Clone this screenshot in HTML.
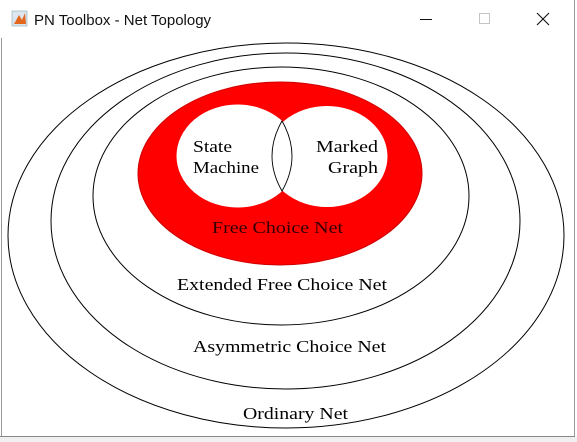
<!DOCTYPE html>
<html><head><meta charset="utf-8"><style>
html,body{margin:0;padding:0;background:#fff;width:577px;height:442px;overflow:hidden}
svg{display:block}
</style></head><body>
<svg width="577" height="442" viewBox="0 0 577 442" xmlns="http://www.w3.org/2000/svg">
<rect x="0" y="0" width="577" height="442" fill="#fff"/>
<g>
  <rect x="12" y="11" width="15" height="15" fill="#dde6f0" stroke="#8aa" stroke-width="0.6"/>
  <path d="M14 24 L19 15 L22 20 L25 13 L26 24 Z" fill="#e2661c"/>
  <text x="34" y="25" font-family="'Liberation Sans',sans-serif" font-size="15" fill="#111">PN Toolbox - Net Topology</text>
  <line x1="420" y1="19.5" x2="432" y2="19.5" stroke="#111" stroke-width="1"/>
  <rect x="479.5" y="13.5" width="10" height="10" fill="none" stroke="#c4c4c4" stroke-width="1"/>
  <path d="M537 13 L549 25 M549 13 L537 25" stroke="#111" stroke-width="1.1"/>
</g>
<line x1="1.5" y1="38" x2="1.5" y2="437" stroke="#999"/>
<line x1="574.5" y1="0" x2="574.5" y2="437" stroke="#999"/>
<rect x="0" y="436" width="577" height="6" fill="#f0f0f0"/>
<line x1="0" y1="436.5" x2="575" y2="436.5" stroke="#888"/>
<g fill="none" stroke="#000" stroke-width="1">
  <ellipse cx="286" cy="235.5" rx="278" ry="192.5"/>
  <ellipse cx="285.5" cy="221" rx="234.5" ry="168"/>
  <ellipse cx="281" cy="196" rx="188" ry="129"/>
  <ellipse cx="280" cy="173.5" rx="142" ry="91.5" fill="#ff0000" stroke="#c00"/>
  <ellipse cx="237.5" cy="156" rx="60.5" ry="51" fill="#fff" stroke="none"/>
  <ellipse cx="327" cy="156.5" rx="60" ry="50" fill="#fff" stroke="none"/>
  <ellipse cx="237.5" cy="156" rx="60.5" ry="51" stroke="#fff"/>
  <ellipse cx="327" cy="156.5" rx="60" ry="50" stroke="#fff"/>
  <path d="M282 121 Q262 156 282 191 Q302 156 282 121 Z" stroke="#000" stroke-width="0.9"/>
</g>
<g font-family="'Liberation Serif',serif" font-size="17" fill="#000">
  <text x="193" y="152" textLength="39" lengthAdjust="spacingAndGlyphs">State</text>
  <text x="193" y="173" textLength="66" lengthAdjust="spacingAndGlyphs">Machine</text>
  <text x="316" y="152" textLength="62" lengthAdjust="spacingAndGlyphs">Marked</text>
  <text x="328" y="173" textLength="50" lengthAdjust="spacingAndGlyphs">Graph</text>
  <text x="212" y="233" textLength="131" lengthAdjust="spacingAndGlyphs" fill="#300">Free Choice Net</text>
  <text x="177" y="290" textLength="210" lengthAdjust="spacingAndGlyphs">Extended Free Choice Net</text>
  <text x="193" y="352" textLength="193" lengthAdjust="spacingAndGlyphs">Asymmetric Choice Net</text>
  <text x="243" y="419" textLength="105" lengthAdjust="spacingAndGlyphs">Ordinary Net</text>
</g>
</svg>
</body></html>
